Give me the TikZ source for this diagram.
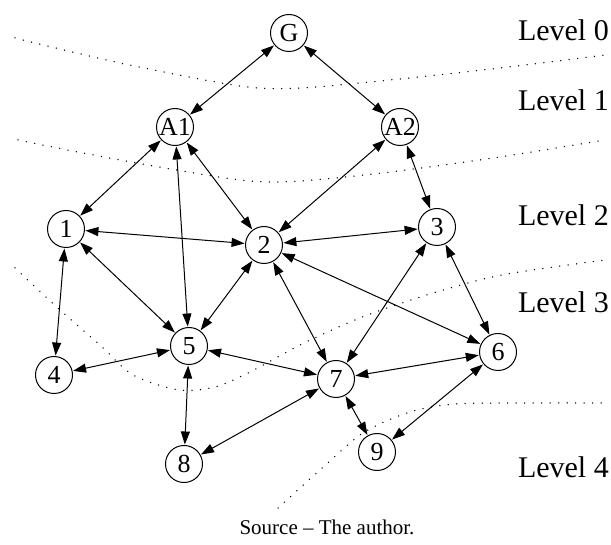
\documentclass[tikz,border=0pt]{standalone}
\usepackage{fontspec}
\setmainfont{Liberation Serif}
\usetikzlibrary{arrows.meta}
\begin{document}
\begin{tikzpicture}[x=1pt,y=-1pt,
  vertex/.style={circle,draw,line width=1pt,minimum size=37pt,inner sep=0pt,
    font=\fontsize{26}{26}\selectfont},
  link/.style={{Triangle[length=13pt,width=9pt]}-{Triangle[length=13pt,width=9pt]},
    line width=1pt,shorten <=0.5pt,shorten >=0.5pt},
  boundary/.style={line width=1.5pt,line cap=round,dash pattern=on 0pt off 8.5pt},
  levellabel/.style={anchor=east,inner sep=0pt,font=\fontsize{30}{30}\selectfont},
  caption/.style={inner sep=0pt,font=\fontsize{21}{21}\selectfont}]
\useasboundingbox (0,0) rectangle (611,545);

% level boundaries
\draw[boundary] plot[smooth] coordinates
  {(15,38) (120,63) (240,86) (300,88) (390,80) (500,68) (605,55)};
\draw[boundary] plot[smooth] coordinates
  {(18,140) (120,160) (240,180) (300,181) (390,172) (500,157) (605,140)};
\draw[boundary] plot[smooth] coordinates
  {(15,268) (60,310) (100,345) (133,375) (179,390) (215,387) (250,372)
   (300,345) (350,322) (390,307) (450,288) (507,274) (605,260)};
\draw[boundary] plot[smooth] coordinates
  {(278,508) (320,470) (363,433) (410,412) (456,404) (530,403) (605,403)};

% vertices
\node[vertex] (G)  at (289,33)  {G};
\node[vertex] (A1) at (175,127) {A1};
\node[vertex] (A2) at (400,127) {A2};
\node[vertex] (n1) at (66,229)  {1};
\node[vertex] (n2) at (264,245) {2};
\node[vertex] (n3) at (437,227) {3};
\node[vertex] (n4) at (54,375)  {4};
\node[vertex] (n5) at (189,346) {5};
\node[vertex] (n6) at (498,352) {6};
\node[vertex] (n7) at (336,379) {7};
\node[vertex] (n8) at (184,464) {8};
\node[vertex] (n9) at (377,452) {9};

% level labels
\node[levellabel] (L0) at (609,30)  {Level 0};
\node[levellabel] (L1) at (609,100) {Level 1};
\node[levellabel] (L2) at (609,215) {Level 2};
\node[levellabel] (L3) at (609,302) {Level 3};
\node[levellabel] (L4) at (609,467) {Level 4};

\node[caption] (src) at (327,527) {Source -- The author.};

% connections
\draw[link] (G) -- (A1);
\draw[link] (G) -- (A2);
\draw[link] (A1) -- (n1);
\draw[link] (A1) -- (n5);
\draw[link] (A1) -- (n2);
\draw[link] (A2) -- (n2);
\draw[link] (A2) -- (n3);
\draw[link] (n1) -- (n2);
\draw[link] (n1) -- (n5);
\draw[link] (n1) -- (n4);
\draw[link] (n2) -- (n3);
\draw[link] (n2) -- (n5);
\draw[link] (n2) -- (n7);
\draw[link] (n2) -- (n6);
\draw[link] (n3) -- (n7);
\draw[link] (n3) -- (n6);
\draw[link] (n4) -- (n5);
\draw[link] (n5) -- (n7);
\draw[link] (n5) -- (n8);
\draw[link] (n6) -- (n7);
\draw[link] (n6) -- (n9);
\draw[link] (n7) -- (n8);
\draw[link] (n7) -- (n9);
\end{tikzpicture}
\end{document}
